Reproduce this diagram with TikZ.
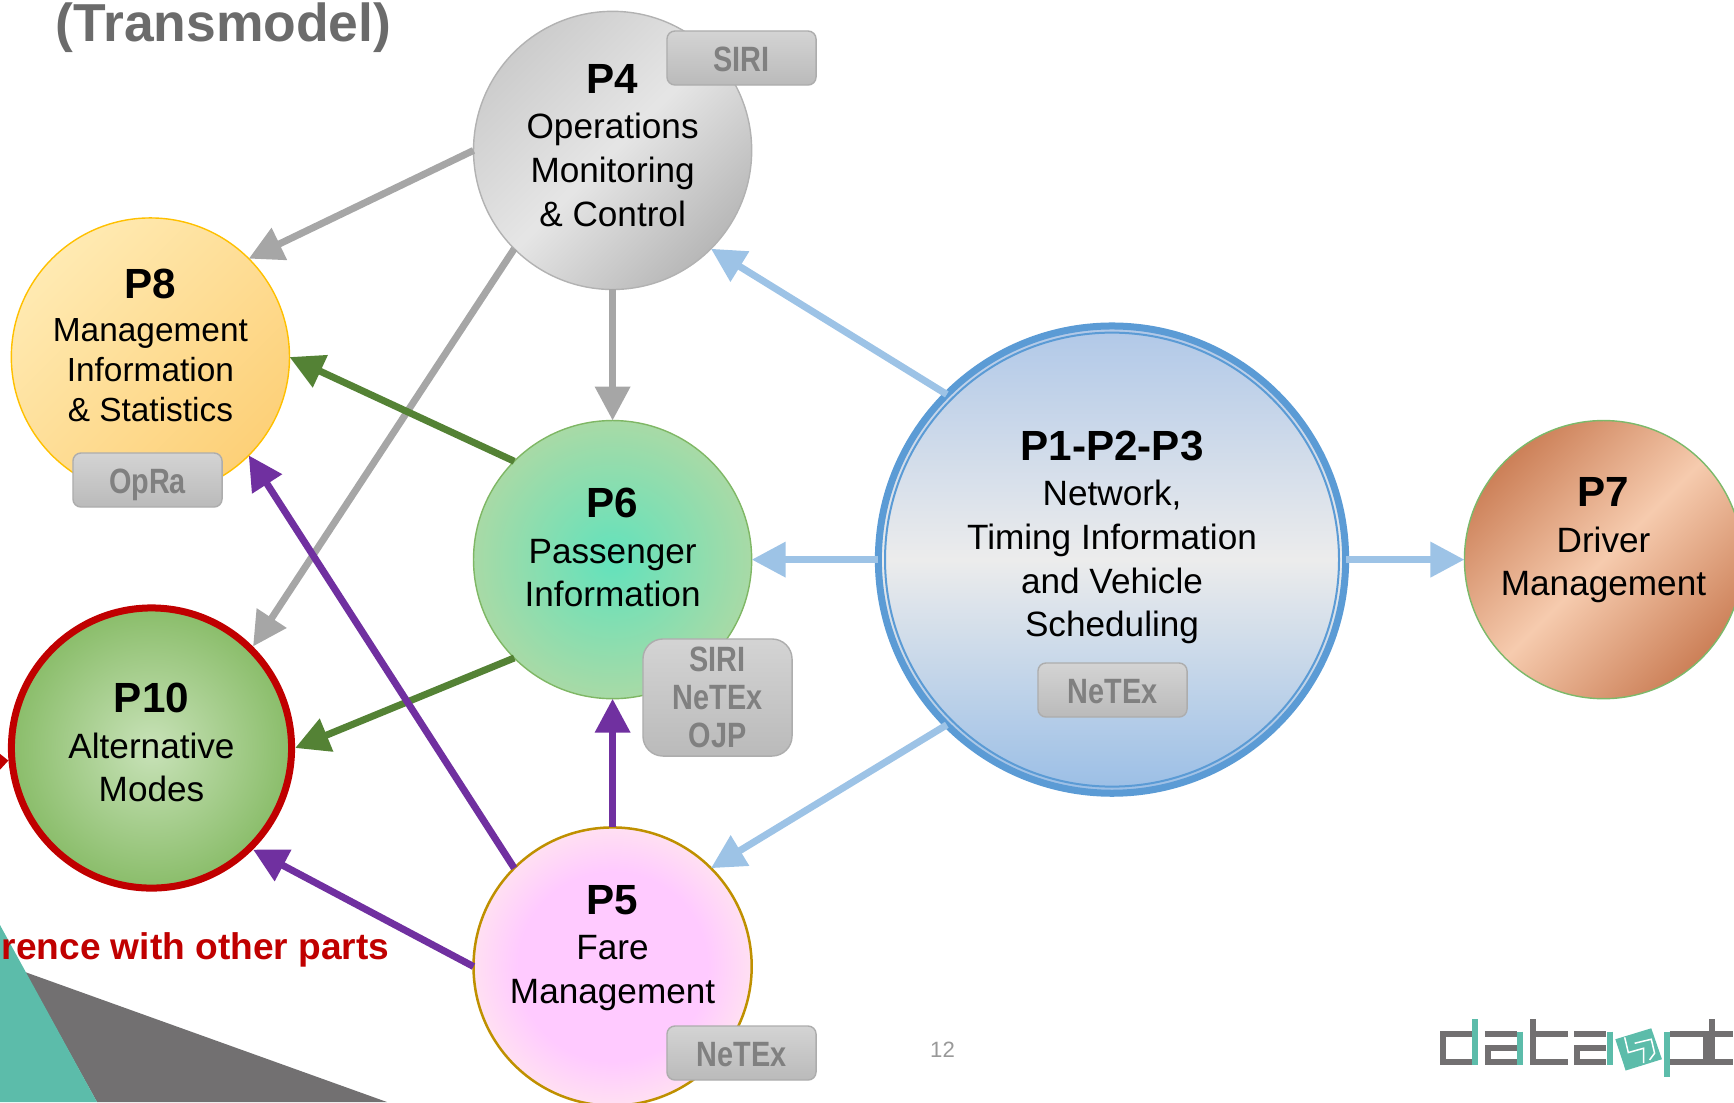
\documentclass[tikz,border=0pt]{standalone}
\usepackage{fontspec}
\usepackage{tikz}
\usetikzlibrary{arrows.meta}
\setmainfont{Liberation Sans}
\newfontfamily\tagfont[FakeStretch=0.82]{Liberation Sans}

\definecolor{flowgray}{HTML}{A6A6A6}
\definecolor{flowblue}{HTML}{9DC3E6}
\definecolor{flowgreen}{HTML}{548235}
\definecolor{flowpurple}{HTML}{7030A0}
\definecolor{ringblue}{HTML}{5B9BD5}
\definecolor{alertred}{HTML}{C00000}
\definecolor{logoteal}{HTML}{5CBCAA}
\definecolor{logogray}{HTML}{727071}
\definecolor{fareinner}{HTML}{FFCAFF}
\definecolor{fareouter}{HTML}{FFE0F2}

\pgfdeclareradialshading{fareglow}{\pgfpoint{0bp}{0bp}}{color(0bp)=(fareinner); color(17bp)=(fareinner); color(25bp)=(fareouter); color(50bp)=(fareouter)}

\newcommand{\parttitle}[1]{{\fontsize{12}{12.4}\selectfont\bfseries #1}}

\tikzset{
  part/.style={shape=circle, minimum size=2.78cm, inner sep=0pt, outer sep=0pt, draw, align=center, text=black,
    font=\fontsize{10}{12.4}\selectfont},
  tagbox/.style={shape=rectangle, rounded corners=0.08cm, minimum width=1.49cm, minimum height=0.54cm, inner sep=0pt,
    align=center, draw=black!32, top color=black!17, bottom color=black!27, text=black!50,
    font=\tagfont\bfseries\fontsize{10}{10.8}\selectfont},
  tagone/.style={tagbox, text height=7.8pt, text depth=0pt},
  flow/.style={line width=0.07cm, -{Triangle[length=0.34cm, width=0.34cm]}},
  logoline/.style={line width=0.06cm, logogray},
  logostem/.style={line width=0.06cm, logoteal}
}

\begin{document}
\begin{tikzpicture}[x=0.01cm, y=-0.01cm]
  \useasboundingbox (0,0) rectangle (1734,1102);
  \clip (0,0) rectangle (1734,1102);

  % slide background
  \fill[logogray] (25,972) -- (387,1102) -- (97,1102) -- cycle;
  \fill[logoteal] (0,925) -- (97,1102) -- (0,1102) -- cycle;
  \node[anchor=base west, inner sep=0pt, text=black!58, font=\fontsize{15.2}{18}\selectfont\bfseries] (Title) at (55,41.5) {(Transmodel)};
  \node[anchor=base east, inner sep=0pt, text=alertred, font=\fontsize{10.55}{12}\selectfont\bfseries] (Note) at (390,959) {rence with other parts};
  \node[inner sep=0pt, text=black!40, font=\fontsize{6.3}{8}\selectfont] (Page) at (942.5,1050) {12};

  % parts
  \node[part, draw=black!30, top color=black!20, bottom color=black!28, middle color=black!10, shading angle=45, text depth=2.9pt] (P4) at (612.6,150.4)
    {\parttitle{P4}\\[0.5pt]Operations\\Monitoring\\\& Control};
  \node[part, draw={rgb,255:red,255;green,192;blue,0}, top color={rgb,255:red,255;green,234;blue,178}, bottom color={rgb,255:red,253;green,208;blue,120}, shading angle=45, text depth=6.7pt, font=\fontsize{9.5}{11.4}\selectfont] (P8) at (150.4,357)
    {\parttitle{P8}\\[0.7pt]Management\\Information\\\& Statistics};
  \node[part, draw={rgb,255:red,127;green,183;blue,101}, inner color={rgb,255:red,98;green,226;blue,188}, outer color={rgb,255:red,168;green,218;blue,166}, text depth=6.9pt] (P6) at (612.6,559.6)
    {\parttitle{P6}\\[0.5pt]Passenger\\Information};
  \node[part, minimum size=2.8cm, draw=alertred, line width=0.07cm, outer sep=1pt, inner color={rgb,255:red,200;green,226;blue,184}, outer color={rgb,255:red,138;green,189;blue,106}, text depth=3.2pt] (P10) at (151.5,748)
    {\parttitle{P10}\\[0.5pt]Alternative\\Modes};
  \node[part, draw={rgb,255:red,191;green,144;blue,0}, line width=0.025cm, shade, shading=fareglow, text depth=12.6pt] (P5) at (612.6,966.5)
    {\parttitle{P5}\\[0.5pt]Fare\\Management};
  \node[part, draw={rgb,255:red,124;green,185;blue,106}, top color={rgb,255:red,204;green,128;blue,88}, bottom color={rgb,255:red,204;green,128;blue,88}, middle color={rgb,255:red,246;green,203;blue,174}, shading angle=45, text depth=13pt] (P7) at (1603.5,559.6)
    {\parttitle{P7}\\[0.5pt]Driver\\Management};
  \node[part, minimum size=4.67cm, draw=ringblue, line width=0.07cm, top color={rgb,255:red,176;green,200;blue,232}, bottom color={rgb,255:red,154;green,190;blue,230}, middle color={rgb,255:red,236;green,236;blue,236}, text depth=14.6pt] (P1) at (1112,559.6)
    {\parttitle{P1-P2-P3}\\[0.5pt]Network,\\Timing Information\\and Vehicle\\Scheduling};
  \draw[ringblue, line width=0.02cm] (P1) circle[radius=227];

  % free end of the arrow coming from outside the slide
  \coordinate (Off) at (-60,766);

  \draw[flow, flowgray] (P4.180) to (P8.45);
  \draw[flow, flowgray] (P4.225) to (P10.45);
  \draw[flow, flowgray] (P4.270) to (P6.90);
  \draw[flow, flowblue] (P1.135) to (P4.-45);
  \draw[flow, flowblue] (P1.180) to (P6.0);
  \draw[flow, flowblue] (P1.0) to (P7.180);
  \draw[flow, flowblue] (P1.225) to (P5.45);
  \draw[flow, flowgreen] (P6.135) to (P8.0);
  \draw[flow, flowgreen] (P6.225) to (P10.0);
  \draw[flow, flowpurple] (P5.135) to (P8.-45);
  \draw[flow, flowpurple] (P5.90) to (P6.-90);
  \draw[flow, flowpurple] (P5.180) to (P10.-45);
  \draw[line width=0.06cm, alertred, -{Triangle[length=0.2cm, width=0.36cm]}] (Off) to (P10.185);

  % standards
  \node[tagone] (TagP4) at (741.5,58) {SIRI};
  \node[tagone] (TagP8) at (147.5,480) {OpRa};
  \node[tagbox, minimum height=1.17cm, rounded corners=0.2cm] (TagP6) at (717.5,697.5) {SIRI\\NeTEx\\OJP};
  \node[tagone] (TagP5) at (741.5,1053) {NeTEx};
  \node[tagone] (TagP1) at (1112.5,690) {NeTEx};

  % logo
  \begin{scope}[shift={(1400,980)}, x=0.00333cm, y=-0.00333cm]
    \draw[logoline] (217,163) -- (129,163) -- (129,246) -- (217,246);
    \draw[logostem] (226,118) -- (226,255);
    \draw[logoline] (255,163) -- (352,163);
    \draw[logoline] (352,205) -- (264,205) -- (264,246) -- (352,246);
    \draw[logostem] (361,155) -- (361,255);
    \draw[logoline] (400,118) -- (400,246) -- (505,246);
    \draw[logoline] (400,163) -- (505,163);
    \draw[logoline] (523,163) -- (620,163);
    \draw[logoline] (620,205) -- (532,205) -- (532,246) -- (620,246);
    \draw[logostem] (630,155) -- (630,255);
    \fill[logoteal] (647,178) -- (755,145) -- (787,238) -- (678,272) -- cycle;
    \draw[white, line width=0.015cm] (675,172) -- (686,218) -- (732,205) -- (732,250);
    \draw[white, line width=0.015cm] (705,190) -- (755,178) -- (765,220) -- (750,240);
    \draw[logostem] (803,155) -- (803,292);
    \draw[logoline] (812,163) -- (919,163) -- (919,246) -- (812,246);
    \draw[logoline] (938,118) -- (938,246) -- (1002,246);
    \draw[logoline] (938,163) -- (1002,163);
  \end{scope}
\end{tikzpicture}
\end{document}
